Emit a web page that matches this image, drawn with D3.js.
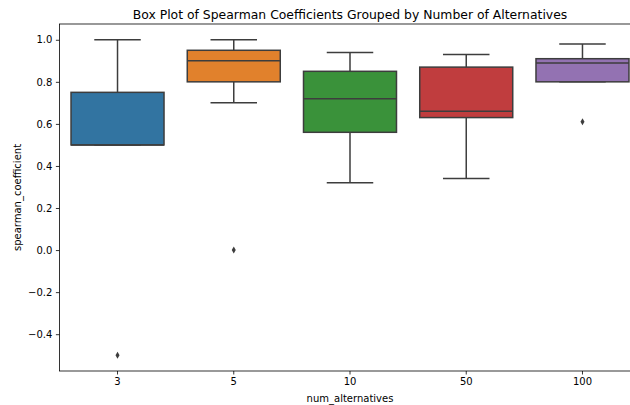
<!DOCTYPE html>
<html>
<head>
<meta charset="utf-8">
<script src="https://cdn.jsdelivr.net/npm/d3@7/dist/d3.min.js"></script>
<style>
  body { margin: 0; background: #fff; }
  svg { display: block; font-family: "DejaVu Sans", sans-serif; }
</style>
</head>
<body>
<svg id="chart" width="630" height="405"></svg>
<script>
// Data
var categories  = ["3", "5", "10", "50", "100"];
var whiskerLow  = [0.50, 0.70, 0.32, 0.34, 0.80];
var q1          = [0.50, 0.80, 0.56, 0.63, 0.80];
var median      = [0.50, 0.90, 0.72, 0.66, 0.89];
var q3          = [0.75, 0.95, 0.85, 0.87, 0.91];
var whiskerHigh = [1.00, 1.00, 0.94, 0.93, 0.98];
var outliers    = [[-0.5], [0.0], [], [], [0.61]];
var colors      = ["#3274a1", "#e1812c", "#3a923a", "#c03d3e", "#9372b2"];
var yTicks      = [-0.4, -0.2, 0.0, 0.2, 0.4, 0.6, 0.8, 1.0];

var boxes = categories.map(function(c, i) {
    return {cat: c, lo: whiskerLow[i], q1: q1[i], med: median[i], q3: q3[i],
            hi: whiskerHigh[i], out: outliers[i], color: colors[i]};
});

// Plot area (the right edge runs past the picture, as in the reference)
var margin = {top: 24, left: 59.4},
    width = 581.2,
    height = 347;

var svg = d3.select("#chart");
var g = svg.append("g")
    .attr("transform", "translate(" + margin.left + "," + margin.top + ")");

var x = d3.scaleBand().domain(categories).range([0, width]).padding(0);
var y = d3.scaleLinear().domain([-0.575, 1.075]).range([height, 0]);

var line = "#3d3d3d";
var boxW = x.bandwidth() * 0.8;

var bg = g.selectAll(".box")
    .data(boxes)
  .enter().append("g")
    .attr("class", "box")
    .attr("transform", function(d) { return "translate(" + (x(d.cat) + x.bandwidth() / 2) + ",0)"; });

// whiskers
bg.append("line")
    .attr("x1", 0).attr("x2", 0)
    .attr("y1", function(d) { return y(d.q3); })
    .attr("y2", function(d) { return y(d.hi); })
    .attr("stroke", line).attr("stroke-width", 1.5);
bg.append("line")
    .attr("x1", 0).attr("x2", 0)
    .attr("y1", function(d) { return y(d.q1); })
    .attr("y2", function(d) { return y(d.lo); })
    .attr("stroke", line).attr("stroke-width", 1.5);

// caps
["hi", "lo"].forEach(function(k) {
    bg.append("line")
        .attr("x1", -boxW / 4).attr("x2", boxW / 4)
        .attr("y1", function(d) { return y(d[k]); })
        .attr("y2", function(d) { return y(d[k]); })
        .attr("stroke", line).attr("stroke-width", 1.5);
});

// box
bg.append("rect")
    .attr("x", -boxW / 2)
    .attr("width", boxW)
    .attr("y", function(d) { return y(d.q3); })
    .attr("height", function(d) { return y(d.q1) - y(d.q3); })
    .attr("fill", function(d) { return d.color; })
    .attr("stroke", line).attr("stroke-width", 1.5);

// median
bg.append("line")
    .attr("x1", -boxW / 2).attr("x2", boxW / 2)
    .attr("y1", function(d) { return y(d.med); })
    .attr("y2", function(d) { return y(d.med); })
    .attr("stroke", line).attr("stroke-width", 1.5);

// fliers
bg.selectAll(".flier")
    .data(function(d) { return d.out; })
  .enter().append("path")
    .attr("class", "flier")
    .attr("d", d3.symbol(d3.symbolDiamond, 14))
    .attr("transform", function(v) { return "translate(0," + y(v) + ")"; })
    .attr("fill", line);

// axes
var xAxis = g.append("g")
    .attr("transform", "translate(0," + height + ")")
    .call(d3.axisBottom(x).tickSizeOuter(0).tickSize(3.5).tickPadding(3.5));
var yAxis = g.append("g")
    .call(d3.axisLeft(y).tickValues(yTicks).tickSizeOuter(0).tickSize(3.5).tickPadding(3.5)
        .tickFormat(function(v) { return d3.format(".1f")(v).replace("-", "\u2212"); }));

[xAxis, yAxis].forEach(function(a) {
    a.select(".domain").remove();
    a.selectAll("line").attr("stroke", "#000").attr("stroke-width", 0.8);
    a.selectAll("text").attr("font-size", 10).attr("fill", "#000")
        .attr("font-family", "DejaVu Sans, sans-serif");
});

// frame
g.append("rect")
    .attr("width", width).attr("height", height)
    .attr("fill", "none").attr("stroke", "#000").attr("stroke-width", 0.8);

// labels
svg.append("text")
    .attr("x", margin.left + width / 2).attr("y", 18.5)
    .attr("text-anchor", "middle").attr("font-size", 12.4)
    .text("Box Plot of Spearman Coefficients Grouped by Number of Alternatives");

svg.append("text")
    .attr("x", margin.left + width / 2).attr("y", 402)
    .attr("text-anchor", "middle").attr("font-size", 10)
    .text("num_alternatives");

svg.append("text")
    .attr("transform", "rotate(-90)")
    .attr("x", -(margin.top + height / 2)).attr("y", 21)
    .attr("text-anchor", "middle").attr("font-size", 10)
    .text("spearman_coefficient");
</script>
</body>
</html>
